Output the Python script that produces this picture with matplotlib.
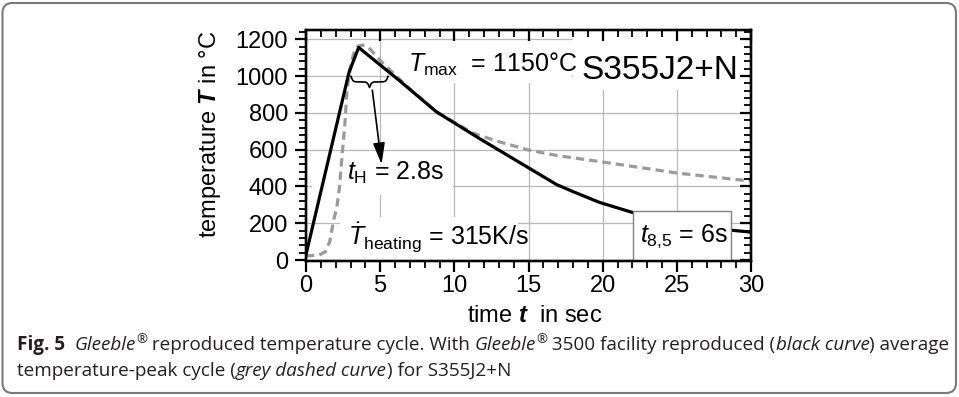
import numpy as np
import matplotlib
matplotlib.use('Agg')
import matplotlib.pyplot as plt
from matplotlib.patches import Rectangle, FancyBboxPatch
from matplotlib.transforms import IdentityTransform
from matplotlib.ticker import MultipleLocator

# Gleeble reproduced cycle (black curve)
t_gleeble = [0.0, 2.9, 3.55, 6.3, 8.8, 11.7, 16.9, 18.0, 19.8, 22.0, 25.0, 28.7, 30.0]
T_gleeble = [30, 1020, 1155, 975, 805, 660, 410, 372, 313, 259, 205, 162, 152]

# average temperature-peak cycle (grey dashed curve)
t_avg = [0.0, 0.9, 1.3, 1.6, 1.85, 2.1, 2.25, 2.43, 2.63, 2.77, 2.97, 3.2, 3.5, 3.8,
         4.2, 5.1, 7.0, 8.8, 11.3, 13.1, 15.0, 17.0, 20.0, 25.0, 30.0]
T_avg = [22, 28, 45, 100, 210, 300, 390, 565, 750, 929, 1038, 1120, 1162, 1168,
         1157, 1076, 930, 805, 688, 641, 598, 567, 533, 473, 429]

x_ticks = [0, 5, 10, 15, 20, 25, 30]
y_ticks = [0, 200, 400, 600, 800, 1000, 1200]

plt.rcParams['font.family'] = 'Liberation Sans'
plt.rcParams['mathtext.fontset'] = 'custom'
plt.rcParams['mathtext.rm'] = 'Liberation Sans'
plt.rcParams['mathtext.it'] = 'Liberation Sans:italic'
plt.rcParams['mathtext.bf'] = 'Liberation Sans:bold'
plt.rcParams['mathtext.bfit'] = 'Liberation Sans:bold:italic'

W, H = 959, 397
fig = plt.figure(figsize=(W / 100, H / 100), dpi=100)
ax = fig.add_axes([306 / W, 1 - 261 / H, 445 / W, 231 / H])

ax.set_xlim(0, 30)
ax.set_ylim(-5, 1250)
ax.set_xticks(x_ticks)
ax.set_yticks(y_ticks)
ax.xaxis.set_minor_locator(MultipleLocator(1))
ax.yaxis.set_minor_locator(MultipleLocator(40))
ax.grid(True, color='#b8b8b8', lw=0.9)
ax.set_axisbelow(True)
for sp in ax.spines.values():
    sp.set_linewidth(1.6)
ax.tick_params(which='major', direction='out', length=8, width=1.6, color='black', labelsize=17)
ax.tick_params(which='minor', direction='out', length=5, width=1.3, color='black')
ax.tick_params(axis='x', pad=2)
ax.tick_params(axis='y', pad=5)

# top / right ticks point inward
axt = ax.twiny()
axt.set_xlim(ax.get_xlim())
axt.set_xticks(x_ticks)
axt.xaxis.set_minor_locator(MultipleLocator(1))
axt.tick_params(which='major', direction='in', length=8, width=1.6, color='black', labeltop=False)
axt.tick_params(which='minor', direction='in', length=5, width=1.3, color='black')
axr = ax.twinx()
axr.set_ylim(ax.get_ylim())
axr.set_yticks(y_ticks)
axr.yaxis.set_minor_locator(MultipleLocator(40))
axr.tick_params(which='major', direction='in', length=8, width=1.6, color='black', labelright=False)
axr.tick_params(which='minor', direction='in', length=5, width=1.3, color='black')
for a in (axt, axr):
    for sp in a.spines.values():
        sp.set_linewidth(1.6)

# white areas behind the annotations
for (x0, x1, y0, y1) in [(5.7, 17.9, 962, 1190), (18.0, 29.6, 925, 1215),
                         (0.4, 9.9, 355, 580), (2.3, 14.3, -5, 235)]:
    ax.add_patch(Rectangle((x0, y0), x1 - x0, y1 - y0, facecolor='white',
                           edgecolor='none', zorder=1.5))

ax.plot(t_avg, T_avg, color='#9a9a9a', lw=2.3, ls=(0, (2.6, 1.6)), zorder=2.5)
ax.plot(t_gleeble, T_gleeble, color='black', lw=2.3, zorder=3)

# t8,5 box
ax.add_patch(Rectangle((22.05, -5), 6.6, 271, facecolor='white',
                       edgecolor='#808080', lw=1.0, zorder=4))


# curly brace for t_H
def brace(ax, xmin, xmax, ytop, depth, beta=14):
    xs = np.linspace(xmin, xmax, 301)
    xm = (xmin + xmax) / 2
    half = xs[:151]
    yh = 1 / (1 + np.exp(-beta * (half - xmin))) + 1 / (1 + np.exp(-beta * (half - xm)))
    yy = np.concatenate([yh, yh[-2::-1]])
    yy = ytop - (yy - yy[0]) / (yy.max() - yy[0]) * depth
    ax.plot(xs, yy, color='black', lw=1.2, zorder=5)


brace(ax, 3.03, 5.53, 998, 60)
ax.annotate('', xy=(5.12, 505), xytext=(4.45, 938),
            arrowprops=dict(arrowstyle='-|>,head_length=0.65,head_width=0.18',
                            color='black', lw=1.2, mutation_scale=20), zorder=5)

ax.text(6.9, 1022, r'$T_{\mathrm{max}}$  = 1150°C', fontsize=18, va='baseline', zorder=5)
ax.text(18.6, 984, 'S355J2+N', fontsize=24, va='baseline', zorder=5)
ax.text(2.76, 435, r'$t_{\mathrm{H}}$ = 2.8s', fontsize=18, va='baseline', zorder=5)
ax.text(2.83, 82, r'$\dot{T}_{\mathrm{heating}}$ = 315K/s', fontsize=18, va='baseline', zorder=5)
ax.text(22.5, 98, r'$t_{8{,}5}$ = 6s', fontsize=18, va='baseline', zorder=5)

fig.text(210 / W, 1 - 134 / H, r'temperature $\mathbfit{T}$ in °C', fontsize=17,
         rotation=90, ha='center', va='center')
fig.text(535 / W, 1 - 316 / H, r'time $\mathbfit{t}$  in sec', fontsize=17,
         ha='center', va='center')

# caption
cap_font = ['Open Sans', 'DejaVu Sans']
cap_size = 13.6
cap_color = '#231f20'
renderer = fig.canvas.get_renderer()


def piece_width(s, **kw):
    a = fig.text(0, 0, s + '|', **kw)
    b = fig.text(0, 0, '|', **kw)
    w = a.get_window_extent(renderer).width - b.get_window_extent(renderer).width
    a.remove()
    b.remove()
    return w


def caption_line(x_px, y_px, pieces):
    for s, style in pieces:
        kw = dict(family=cap_font, color=cap_color, fontsize=cap_size)
        dy = 0
        if style == 'b':
            kw['weight'] = 'bold'
        elif style == 'i':
            kw['style'] = 'italic'
        elif style == 'sup':
            kw['fontsize'] = cap_size * 0.7
            dy = 7
        fig.text(x_px / W, (H - y_px + dy) / H, s, va='baseline', **kw)
        x_px += piece_width(s, **kw)


caption_line(17, 350, [('Fig. 5', 'b'), ('  ', 'n'), ('Gleeble', 'i'), ('®', 'sup'),
                       (' reproduced temperature cycle. With ', 'n'), ('Gleeble', 'i'),
                       ('®', 'sup'), (' 3500 facility reproduced (', 'n'),
                       ('black curve', 'i'), (') average', 'n')])
caption_line(17, 376, [('temperature-peak cycle (', 'n'), ('grey dashed curve', 'i'),
                       (') for S355J2+N', 'n')])

fig.patches.append(FancyBboxPatch((2.5, 4), 953.5, 390,
                                  boxstyle='round,pad=0,rounding_size=10',
                                  transform=IdentityTransform(), facecolor='none',
                                  edgecolor='#7a7a7a', lw=1.5))

fig.savefig('out.png', dpi=100)
